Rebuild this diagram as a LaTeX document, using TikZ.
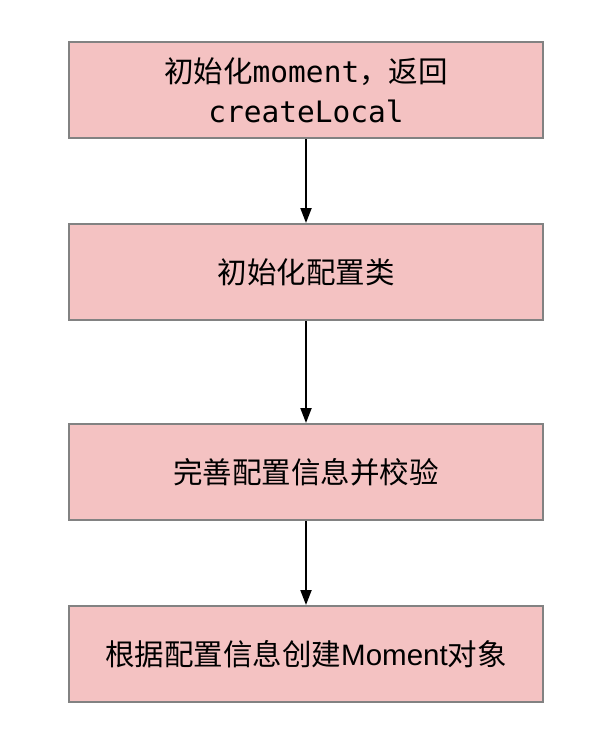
\documentclass[tikz,border=0pt]{standalone}
\usepackage{fontspec}
\setmainfont{Noto Sans CJK SC}
\newfontfamily\monof{DejaVu Sans Mono}
\newfontfamily\latinf{Liberation Sans}
\usetikzlibrary{arrows.meta}
\definecolor{boxfill}{HTML}{F4C2C2}
\definecolor{boxline}{HTML}{828282}
\begin{document}
\begin{tikzpicture}[x=1pt,y=-1pt,
  stepbox/.style={draw=boxline, line width=2pt, fill=boxfill, minimum width=474pt, minimum height=96pt, inner sep=0pt, align=center, font=\fontsize{29.5}{40}\selectfont},
  flow/.style={-{Triangle[length=15pt,width=11pt]}, line width=2pt}]
\useasboundingbox (0,0) rectangle (608,756);
\node[stepbox] (b1) at (306,90) {初始化{\monof moment}，返回\\{\monof createLocal}};
\node[stepbox] (b2) at (306,272) {初始化配置类};
\node[stepbox] (b3) at (306,472) {完善配置信息并校验};
\node[stepbox] (b4) at (306,654) {根据配置信息创建{\latinf Moment}对象};
\draw[flow] (b1) -- (b2);
\draw[flow] (b2) -- (b3);
\draw[flow] (b3) -- (b4);
\end{tikzpicture}
\end{document}
